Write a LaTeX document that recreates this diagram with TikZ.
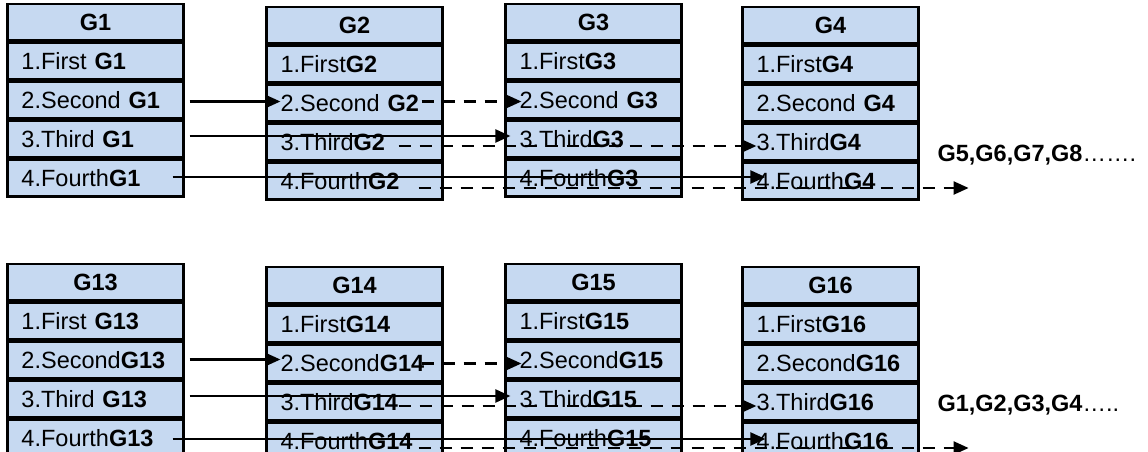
\documentclass[tikz,border=0pt]{standalone}
\usepackage{fontspec}
\setmainfont{Liberation Sans}
\usetikzlibrary{matrix, arrows.meta, calc}
\definecolor{cellblue}{HTML}{C6D9F1}

\tikzset{
  cell/.style={draw, fill=cellblue, line width=2.2pt, minimum width=176pt, minimum height=36.8pt,
    text width=148pt, inner xsep=14pt, inner ysep=0pt, align=left, text height=16.8pt, text depth=0pt,
    font=\fontsize{23.5}{28}\selectfont},
  hdr/.style={align=center, font=\fontsize{23.5}{28}\selectfont\bfseries},
  tbl/.style={matrix of nodes, row sep=0pt, nodes={cell}, row 1/.style={nodes={hdr}}},
  fwd/.style={line width=2.2pt, -{Triangle[length=15pt,width=13pt]}},
  fwddash/.style={fwd, dash pattern=on 12pt off 9pt},
}

\begin{document}
\begin{tikzpicture}[x=1pt, y=-1pt, font=\fontsize{23.5}{28}\selectfont]
  \useasboundingbox (0,0) rectangle (1148,452);

  % first round
  \matrix (g1) at (95.5,100) [tbl] {
    G1 \\ 1.First \textbf{G1} \\ 2.Second \textbf{G1} \\ 3.Third \textbf{G1} \\ 4.Fourth\textbf{G1} \\};
  \matrix (g2) at (354.5,103) [tbl] {
    G2 \\ 1.First\textbf{G2} \\ 2.Second \textbf{G2} \\ 3.Third\textbf{G2} \\ 4.Fourth\textbf{G2} \\};
  \matrix (g3) at (593.5,100) [tbl] {
    G3 \\ 1.First\textbf{G3} \\ 2.Second \textbf{G3} \\ 3.Third\textbf{G3} \\ 4.Fourth\textbf{G3} \\};
  \matrix (g4) at (830.5,103) [tbl] {
    G4 \\ 1.First\textbf{G4} \\ 2.Second \textbf{G4} \\ 3.Third\textbf{G4} \\ 4.Fourth\textbf{G4} \\};
  \node[anchor=west] (more1) at (934,155) {\textbf{G5,G6,G7,G8}…….};

  \draw[fwd] ([xshift=5pt,yshift=-1.5pt]g1-3-1.east) coordinate (a1) -- ([xshift=15pt]a1 -| g2-3-1.west);
  \draw[fwddash] ([xshift=-22pt,yshift=1.5pt]g2-3-1.east) coordinate (b1) -- ([xshift=17pt]b1 -| g3-3-1.west);
  \draw[fwd] ([xshift=5pt,yshift=3pt]g1-4-1.east) coordinate (a2) -- ([xshift=6pt]a2 -| g3-4-1.west);
  \draw[fwddash] ([xshift=-45pt,yshift=-4pt]g2-4-1.east) coordinate (b2) -- ([xshift=15pt]b2 -| g4-4-1.west);
  \draw[fwd] ([xshift=-12pt,yshift=1pt]g1-5-1.east) coordinate (a3) -- ([xshift=24pt]a3 -| g4-5-1.west);
  \draw[fwddash] ([xshift=-25pt,yshift=-7pt]g2-5-1.east) coordinate (b3) -- ([xshift=49pt]b3 -| g4-5-1.east);

  % second round
  \matrix (g13) at (95.5,360) [tbl] {
    G13 \\ 1.First \textbf{G13} \\ 2.Second\textbf{G13} \\ 3.Third \textbf{G13} \\ 4.Fourth\textbf{G13} \\};
  \matrix (g14) at (354.5,363) [tbl] {
    G14 \\ 1.First\textbf{G14} \\ 2.Second\textbf{G14} \\ 3.Third\textbf{G14} \\ 4.Fourth\textbf{G14} \\};
  \matrix (g15) at (593.5,360) [tbl] {
    G15 \\ 1.First\textbf{G15} \\ 2.Second\textbf{G15} \\ 3.Third\textbf{G15} \\ 4.Fourth\textbf{G15} \\};
  \matrix (g16) at (830.5,363) [tbl] {
    G16 \\ 1.First\textbf{G16} \\ 2.Second\textbf{G16} \\ 3.Third\textbf{G16} \\ 4.Fourth\textbf{G16} \\};
  \node[anchor=west] (more2) at (934,405) {\textbf{G1,G2,G3,G4}…..};

  \draw[fwd] ([xshift=5pt,yshift=0.5pt]g13-3-1.east) coordinate (c1) -- ([xshift=15pt]c1 -| g14-3-1.west);
  \draw[fwddash] ([xshift=-22pt,yshift=-0.5pt]g14-3-1.east) coordinate (d1) -- ([xshift=17pt]d1 -| g15-3-1.west);
  \draw[fwd] ([xshift=5pt,yshift=3pt]g13-4-1.east) coordinate (c2) -- ([xshift=6pt]c2 -| g15-4-1.west);
  \draw[fwddash] ([xshift=-45pt,yshift=-4pt]g14-4-1.east) coordinate (d2) -- ([xshift=15pt]d2 -| g16-4-1.west);
  \draw[fwd] ([xshift=-12pt,yshift=-1pt]g13-5-1.east) coordinate (c3) -- ([xshift=24pt]c3 -| g16-5-1.west);
  \draw[fwddash] ([xshift=-25pt,yshift=-7pt]g14-5-1.east) coordinate (d3) -- ([xshift=49pt]d3 -| g16-5-1.east);
\end{tikzpicture}
\end{document}
